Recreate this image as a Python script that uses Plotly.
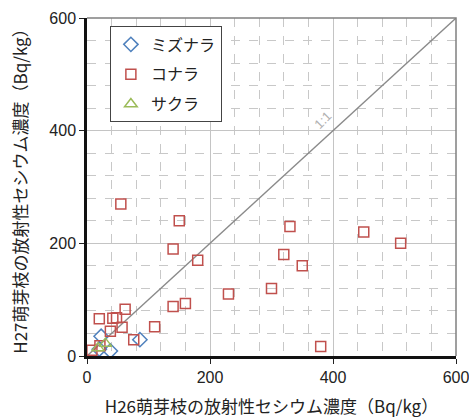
import plotly.graph_objects as go

# H26 (x) vs H27 (y) radioactive cesium concentration, Bq/kg
konara_x = [55, 150, 140, 180, 330, 320, 350, 450, 510, 300, 230, 160, 140, 110, 380,
            62, 20, 42, 48, 57, 38, 76, 21, 8]
konara_y = [270, 240, 190, 170, 230, 180, 160, 220, 200, 120, 110, 93, 88, 52, 17,
            83, 66, 67, 68, 51, 44, 29, 18, 10]
mizunara_x = [23, 86, 38, 20]
mizunara_y = [35, 29, 9, 12]
sakura_x = [18, 30]
sakura_y = [14, 22]

line_x = [0, 600]
line_y = [0, 600]

tick_vals = [0, 200, 400, 600]

fig = go.Figure()

fig.add_trace(go.Scatter(x=line_x, y=line_y, mode="lines",
                         line=dict(color="#8a8a8a", width=1.3),
                         showlegend=False, hoverinfo="skip", cliponaxis=False))

fig.add_trace(go.Scatter(x=mizunara_x, y=mizunara_y, mode="markers", name="ミズナラ",
                         legendgroup="a", cliponaxis=False,
                         marker=dict(symbol="diamond-open", size=11,
                                     line=dict(color="#4F81BD", width=1.5), color="#4F81BD")))
fig.add_trace(go.Scatter(x=konara_x, y=konara_y, mode="markers", name="コナラ",
                         legendgroup="b", cliponaxis=False,
                         marker=dict(symbol="square-open", size=10,
                                     line=dict(color="#C0504D", width=1.5), color="#C0504D")))
fig.add_trace(go.Scatter(x=sakura_x, y=sakura_y, mode="markers", name="サクラ",
                         legendgroup="c", cliponaxis=False,
                         marker=dict(symbol="triangle-up-open", size=11,
                                     line=dict(color="#9BBB59", width=1.5), color="#9BBB59")))

tick_font = dict(family="Liberation Sans, Arial, sans-serif", size=16, color="#222")
title_font = dict(family="Noto Sans CJK JP, sans-serif", size=17, color="#222")

common = dict(range=[0, 600], tickvals=tick_vals, ticks="outside", ticklen=5,
              tickcolor="#222", showline=True, linecolor="#111", linewidth=2.5,
              showgrid=True, gridcolor="#c4c4c4", gridwidth=1.2, zeroline=False,
              tickfont=tick_font, automargin=False, ticklabeloverflow="allow",
              minor=dict(dtick=40, showgrid=True, gridcolor="#c8c8c8",
                         griddash="dash", gridwidth=1, ticks=""))

fig.update_xaxes(**common,
                 title=dict(text="H26萌芽枝の放射性セシウム濃度（Bq/kg）",
                            font=title_font, standoff=17))
fig.update_yaxes(**common,
                 title=dict(text="H27萌芽枝の放射性セシウム濃度（Bq/kg）",
                            font=title_font, standoff=18))

fig.add_shape(type="path", path="M 0,1 L 1,1 L 1,0", xref="paper", yref="paper",
              line=dict(color="#808080", width=1.5))

fig.add_annotation(x=383, y=418, text="1:1", showarrow=False, textangle=-45,
                   font=dict(family="Liberation Sans, sans-serif", size=13, color="#b0b0b0"))

fig.update_layout(
    width=469, height=419,
    margin=dict(l=87, r=13, t=18, b=63),
    plot_bgcolor="white", paper_bgcolor="white",
    legend=dict(x=0.062, y=0.975, xanchor="left", yanchor="top",
                bgcolor="white", bordercolor="#444", borderwidth=1,
                font=dict(family="Noto Sans CJK JP, sans-serif", size=16, color="#222"),
                tracegroupgap=6, itemwidth=30),
    showlegend=True,
)

fig.write_html("out.html", config={"displayModeBar": False},
               post_script="document.body.style.margin='0';document.body.style.overflow='hidden';")
